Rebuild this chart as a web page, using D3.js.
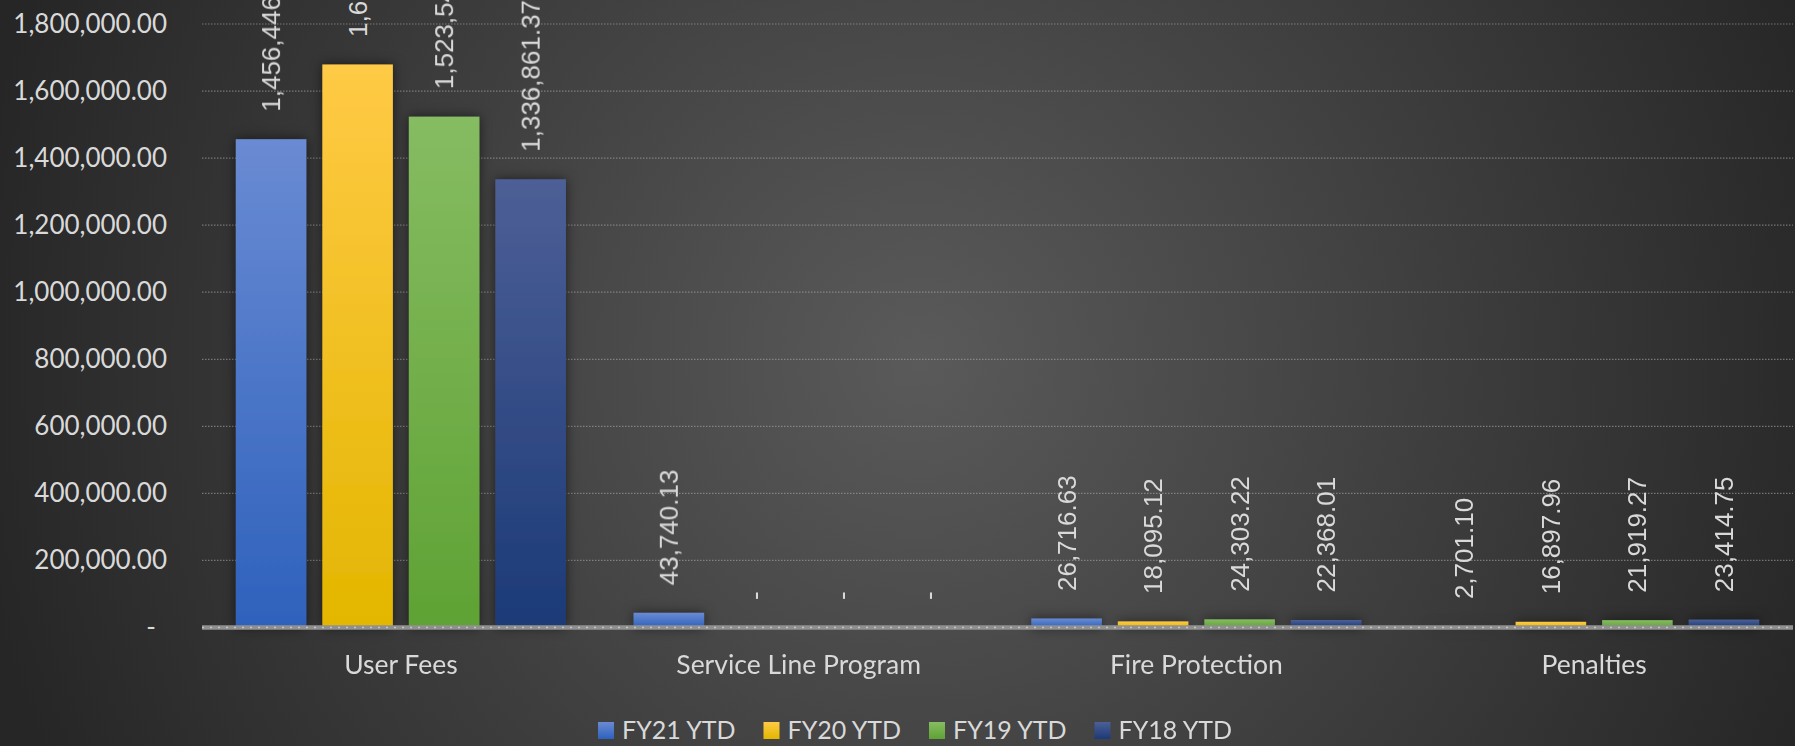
<!DOCTYPE html>
<html>
<head>
<meta charset="utf-8">
<script src="https://cdn.jsdelivr.net/npm/d3@7"></script>
<style>
  html, body { margin: 0; padding: 0; background: #2a2a2a; }
  svg { display: block; }
</style>
</head>
<body>
<div id="chart"></div>
<script>
// chart data
let categories = ["User Fees", "Service Line Program", "Fire Protection", "Penalties"]
let seriesNames = ["FY21 YTD", "FY20 YTD", "FY19 YTD", "FY18 YTD"]
let fy21 = [1456446.52, 43740.13, 26716.63, 2701.10]
let fy20 = [1679268.44, 0, 18095.12, 16897.96]
let fy19 = [1523545.81, 0, 24303.22, 21919.27]
let fy18 = [1336861.37, 0, 22368.01, 23414.75]
let yTicks = [0, 200000, 400000, 600000, 800000, 1000000, 1200000, 1400000, 1600000, 1800000]

let seriesValues = [fy21, fy20, fy19, fy18]
let colorTop = ["#6a8bd3", "#ffca45", "#86bc62", "#4d5f96"]
let colorBot = ["#2e61bc", "#e3b600", "#5fa234", "#1b3a77"]

let W = 1795, H = 746
let margin = {top: 24, right: 2, bottom: 118.5, left: 202}
let width = W - margin.left - margin.right,
    height = H - margin.top - margin.bottom

let svg = d3.select("#chart").append("svg")
    .attr("width", W)
    .attr("height", H)

let defs = svg.append("defs")

// background
let bg = defs.append("radialGradient")
    .attr("id", "bg")
    .attr("gradientUnits", "userSpaceOnUse")
    .attr("cx", 920).attr("cy", 360).attr("r", 960)
bg.append("stop").attr("offset", "0%").attr("stop-color", "#5a5a5a")
bg.append("stop").attr("offset", "100%").attr("stop-color", "#262626")

// bar gradients
seriesNames.forEach(function (s, i) {
    let g = defs.append("linearGradient")
        .attr("id", "grad" + i)
        .attr("x1", 0).attr("y1", 0).attr("x2", 0).attr("y2", 1)
    g.append("stop").attr("offset", "0%").attr("stop-color", colorTop[i])
    g.append("stop").attr("offset", "100%").attr("stop-color", colorBot[i])
})

let shadow = defs.append("filter")
    .attr("id", "shadow")
    .attr("x", "-50%").attr("y", "-50%").attr("width", "200%").attr("height", "200%")
shadow.append("feDropShadow")
    .attr("dx", 0).attr("dy", 0)
    .attr("stdDeviation", 6)
    .attr("flood-color", "#000")
    .attr("flood-opacity", 0.55)

svg.append("rect")
    .attr("width", W).attr("height", H)
    .attr("fill", "url(#bg)")

let chart = svg.append("g")
    .attr("transform", "translate(" + margin.left + "," + margin.top + ")")

// scales
let x0 = d3.scaleBand()
    .domain(categories)
    .range([0, width])
    .padding(0)

let x1 = d3.scaleBand()
    .domain(d3.range(seriesNames.length))
    .range([0, x0.bandwidth()])
    .paddingInner(0.185)
    .paddingOuter(0.391)

let y = d3.scaleLinear()
    .domain([0, 1800000])
    .range([height, 0])

let fmt = d3.format(",.2f")

// gridlines
chart.append("g")
    .selectAll("line")
    .data(yTicks.slice(1))
    .enter()
    .append("line")
    .attr("x1", 0).attr("x2", width)
    .attr("y1", function (d) { return y(d) }).attr("y2", function (d) { return y(d) })
    .attr("stroke", "#a6a6a6")
    .attr("stroke-opacity", 0.6)
    .attr("stroke-width", 1.2)
    .attr("stroke-dasharray", "1.5,1.5")

// y axis
let yAxis = chart.append("g")
    .call(d3.axisLeft(y)
        .tickValues(yTicks)
        .tickSize(0)
        .tickPadding(35)
        .tickFormat(function (d) { return d === 0 ? "-" : fmt(d) }))
yAxis.select(".domain").remove()
yAxis.selectAll("text")
    .attr("fill", "#d9d9d9")
    .style("font-family", "Lato, 'Open Sans', sans-serif")
    .style("font-size", "26px")
yAxis.selectAll(".tick").filter(function (d) { return d === 0 })
    .select("text").attr("x", -46)

// bars
let groups = chart.append("g")
    .attr("filter", "url(#shadow)")
    .selectAll("g")
    .data(categories)
    .enter()
    .append("g")
    .attr("transform", function (d) { return "translate(" + x0(d) + ",0)" })

groups.selectAll("rect")
    .data(function (d, ci) { return seriesValues.map(function (vals, si) { return {si: si, v: vals[ci]} }) })
    .enter()
    .append("rect")
    .attr("x", function (d) { return x1(d.si) })
    .attr("width", x1.bandwidth())
    .attr("y", function (d) { return y(d.v) })
    .attr("height", function (d) { return height - y(d.v) })
    .attr("fill", function (d) { return "url(#grad" + d.si + ")" })

// value labels
let labels = chart.append("g")
categories.forEach(function (c, ci) {
    seriesValues.forEach(function (vals, si) {
        let v = vals[ci]
        let cx = x0(c) + x1(si) + x1.bandwidth() / 2
        let cy = y(v) - 27.5
        labels.append("text")
            .attr("transform", "translate(" + cx + "," + cy + ") rotate(-90)")
            .attr("dy", "0.35em")
            .attr("text-anchor", "start")
            .attr("fill", "#d9d9d9")
            .style("font-family", "'Liberation Sans', Arial, sans-serif")
            .style("font-size", "26px")
            .text(v === 0 ? "-" : fmt(v))
    })
})

// x axis line
chart.append("line")
    .attr("x1", 0).attr("x2", width)
    .attr("y1", height).attr("y2", height)
    .attr("stroke", "#909090")
    .attr("stroke-width", 4.5)
chart.append("line")
    .attr("x1", 0).attr("x2", width)
    .attr("y1", height).attr("y2", height)
    .attr("stroke", "#c4c4c4")
    .attr("stroke-width", 1.5)
    .attr("stroke-dasharray", "2,6")

let xAxis = chart.append("g")
    .attr("transform", "translate(0," + height + ")")
    .call(d3.axisBottom(x0).tickSize(0).tickPadding(28))
xAxis.select(".domain").remove()
xAxis.selectAll("text")
    .attr("fill", "#d9d9d9")
    .style("font-family", "Lato, 'Open Sans', sans-serif")
    .style("font-size", "26.5px")

// legend
let legend = svg.append("g")
    .attr("transform", "translate(598,722)")
let item = legend.selectAll("g")
    .data(seriesNames)
    .enter()
    .append("g")
    .attr("transform", function (d, i) { return "translate(" + (i * 165.5) + ",0)" })
item.append("rect")
    .attr("width", 16).attr("height", 17)
    .attr("fill", function (d, i) { return "url(#grad" + i + ")" })
item.append("text")
    .attr("x", 24).attr("y", 17)
    .attr("fill", "#d9d9d9")
    .style("font-family", "Lato, 'Open Sans', sans-serif")
    .style("font-size", "25px")
    .text(function (d) { return d })
</script>
</body>
</html>
